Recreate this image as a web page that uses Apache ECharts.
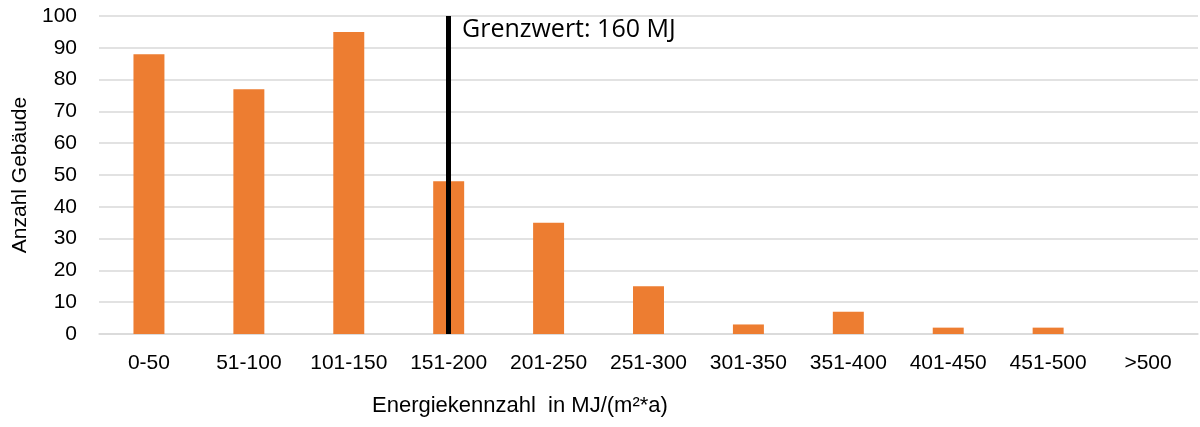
<!DOCTYPE html>
<html>
<head>
    <meta charset="utf-8">
    <title>Energiekennzahl</title>
    <script src="https://cdn.jsdelivr.net/npm/echarts@6/dist/echarts.min.js"></script>
    <style>
        html, body { margin: 0; padding: 0; background: #fff; }
        #chart1 { width: 1200px; height: 427px; }
    </style>
</head>
<body>
<!-- Diagramm -->
<div id="chart1"></div>
<script type="text/javascript">
    // Kategorien (Energiekennzahl-Klassen)
    var categories = ['0-50', '51-100', '101-150', '151-200', '201-250', '251-300',
        '301-350', '351-400', '401-450', '451-500', '>500'];
    // Anzahl Gebäude je Klasse
    var counts = [88, 77, 95, 48, 35, 15, 3, 7, 2, 2, 0];
    // y-Achse
    var yMin = 0, yMax = 100, yStep = 10;
    // Grenzwert
    var limitCategory = '151-200';
    var limitText = 'Grenzwert: 160 MJ';

    var chart = echarts.init(document.getElementById('chart1'));
    chart.setOption({
        animation: false,
        grid: { left: 99, right: 2, top: 16, bottom: 93 },
        xAxis: {
            type: 'category',
            data: categories,
            axisTick: { show: false },
            axisLine: { lineStyle: { color: '#d9d9d9', width: 1.5 } },
            axisLabel: {
                color: '#000',
                fontFamily: 'Liberation Sans',
                fontSize: 21,
                margin: 19,
                interval: 0
            }
        },
        yAxis: {
            type: 'value',
            min: yMin,
            max: yMax,
            interval: yStep,
            name: 'Anzahl Gebäude',
            nameLocation: 'middle',
            nameGap: 68,
            nameTextStyle: { color: '#000', fontFamily: 'Liberation Sans', fontSize: 21 },
            axisLine: { show: false },
            axisTick: { show: false },
            splitLine: { lineStyle: { color: '#d9d9d9', width: 1.5 } },
            axisLabel: {
                color: '#000',
                fontFamily: 'Liberation Sans',
                fontSize: 21,
                margin: 22
            }
        },
        graphic: [
            {
                type: 'text',
                left: 372,
                top: 395,
                style: {
                    text: 'Energiekennzahl  in MJ/(m²*a)',
                    fill: '#000',
                    font: '22px "Liberation Sans"'
                }
            },
            {
                type: 'text',
                left: 462,
                top: 17,
                style: {
                    text: limitText,
                    fill: '#000',
                    font: '25px "Open Sans"'
                }
            }
        ],
        series: [{
            name: 'Anzahl Gebäude',
            type: 'bar',
            data: counts,
            barWidth: '31%',
            itemStyle: { color: '#ed7d31' },
            markLine: {
                symbol: 'none',
                silent: true,
                label: { show: false },
                lineStyle: { color: '#000', width: 5, type: 'solid' },
                data: [{ xAxis: limitCategory }]
            }
        }]
    });
</script>
</body>
</html>
